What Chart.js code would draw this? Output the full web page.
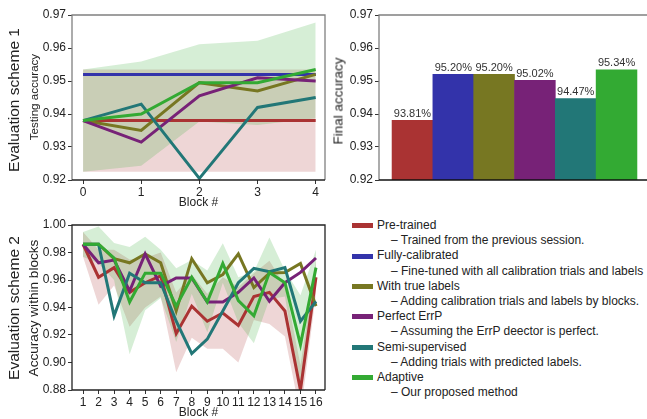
<!DOCTYPE html>
<html>
<head>
<meta charset="utf-8">
<script src="https://cdn.jsdelivr.net/npm/chart.js@4"></script>
<style>
  body { margin: 0; background: #fff; }
  #fig { position: relative; width: 647px; height: 419px; overflow: hidden; background: #fff;
         font-family: 'Liberation Sans', Arial, sans-serif; color: #222; }
  #fig canvas { position: absolute; }
  .rot { position: absolute; white-space: nowrap; transform: translate(-50%, -50%) rotate(-90deg); }
  #legend { position: absolute; left: 352px; top: 218px; font-size: 12px; line-height: 15.2px; }
  .lg-name { display: flex; align-items: center; }
  .lg-sw { display: inline-block; width: 21px; height: 5px; margin-right: 4px; }
  .lg-note { padding-left: 39px; }
</style>
</head>
<body>
<div id="fig">
  <canvas id="c1" width="330" height="210" style="left:0;top:0;width:330px;height:210px"></canvas>
  <canvas id="c2" width="330" height="210" style="left:330px;top:0;width:330px;height:210px"></canvas>
  <canvas id="c3" width="330" height="210" style="left:0;top:210px;width:330px;height:210px"></canvas>

  <div class="rot" style="left:14px;top:100px;font-size:15.5px">Evaluation scheme 1</div>
  <div class="rot" style="left:33px;top:97px;font-size:11.6px">Testing accuracy</div>
  <div class="rot" style="left:338px;top:101px;font-size:13.5px">Final accuracy</div>
  <div class="rot" style="left:14px;top:308px;font-size:15.5px">Evaluation scheme 2</div>
  <div class="rot" style="left:33px;top:308px;font-size:13.6px">Accuracy within blocks</div>

  <div id="legend"></div>
</div>

<script>
// методы и цвета
const methodNames = ['Pre-trained', 'Fully-calibrated', 'With true labels', 'Perfect ErrP', 'Semi-supervised', 'Adaptive'];
const methodNotes = [
  '\u2013 Trained from the previous session.',
  '\u2013 Fine-tuned with all calibration trials and labels',
  '\u2013 Adding calibration trials and labels by blocks.',
  '\u2013 Assuming the ErrP deector is perfect.',
  '\u2013 Adding trials with predicted labels.',
  '\u2013 Our proposed method'
];
const methodColors = ['#AA3333', '#3333AA', '#777722', '#772277', '#227777', '#33AA33'];

// схема 1 — точность на тесте
const blocks1 = [0, 1, 2, 3, 4];
const s1Pre   = [0.938, 0.938, 0.938, 0.938, 0.938];
const s1Full  = [0.952, 0.952, 0.952, 0.952, 0.952];
const s1True  = [0.938, 0.935, 0.9495, 0.947, 0.952];
const s1Errp  = [0.938, 0.9315, 0.9455, 0.951, 0.950];
const s1Semi  = [0.938, 0.943, 0.9205, 0.942, 0.945];
const s1Adapt = [0.938, 0.940, 0.9495, 0.9495, 0.9535];
const s1PreLow    = [0.9225, 0.9225, 0.9225, 0.9225, 0.9225];
const s1PreHigh   = [0.9535, 0.9535, 0.9535, 0.9535, 0.9535];
const s1AdaptLow  = [0.9225, 0.9243, 0.9377, 0.9367, 0.9387];
const s1AdaptHigh = [0.9535, 0.9559, 0.9611, 0.9622, 0.9677];
const yTicks1 = [0.92, 0.93, 0.94, 0.95, 0.96, 0.97];

// итоговая точность
const finalAcc = [93.81, 95.20, 95.20, 95.02, 94.47, 95.34];

// схема 2 — точность внутри блоков
const blocks2 = [1, 2, 3, 4, 5, 6, 7, 8, 9, 10, 11, 12, 13, 14, 15, 16];
const s2Pre   = [0.986, 0.962, 0.969, 0.951, 0.958, 0.963, 0.921, 0.941, 0.930, 0.936, 0.927, 0.948, 0.951, 0.9375, 0.880, 0.962];
const s2True  = [0.986, 0.986, 0.9755, 0.9725, 0.979, 0.9725, 0.9375, 0.9755, 0.958, 0.964, 0.979, 0.9545, 0.965, 0.9655, 0.972, 0.941];
const s2Errp  = [0.986, 0.9725, 0.9745, 0.952, 0.979, 0.9555, 0.9615, 0.9615, 0.944, 0.944, 0.951, 0.9615, 0.9445, 0.958, 0.9655, 0.976];
const s2Semi  = [0.986, 0.986, 0.934, 0.965, 0.958, 0.958, 0.930, 0.9065, 0.917, 0.9375, 0.958, 0.9685, 0.966, 0.969, 0.930, 0.9445];
const s2Adapt = [0.986, 0.986, 0.976, 0.944, 0.965, 0.965, 0.941, 0.962, 0.944, 0.972, 0.945, 0.934, 0.9655, 0.958, 0.913, 0.969];
const s2PreLow    = [0.977, 0.942, 0.956, 0.926, 0.940, 0.948, 0.893, 0.918, 0.910, 0.910, 0.900, 0.931, 0.928, 0.919, 0.862, 0.950];
const s2PreHigh   = [0.995, 0.982, 0.982, 0.975, 0.976, 0.980, 0.951, 0.964, 0.950, 0.962, 0.955, 0.965, 0.974, 0.956, 0.898, 0.974];
const s2AdaptLow  = [0.977, 0.972, 0.960, 0.906, 0.938, 0.947, 0.915, 0.950, 0.922, 0.958, 0.929, 0.914, 0.946, 0.948, 0.880, 0.956];
const s2AdaptHigh = [0.995, 0.999, 0.987, 0.984, 0.9915, 0.982, 0.9685, 0.9745, 0.967, 0.9867, 0.962, 0.966, 0.991, 0.967, 0.949, 0.982];
const yTicks2 = [0.88, 0.90, 0.92, 0.94, 0.96, 0.98, 1.00];

Chart.defaults.font.family = "'Liberation Sans', Arial, sans-serif";
Chart.defaults.font.size = 12;
Chart.defaults.color = '#222';

// рамка вокруг области графика
const framePlugin = {
  id: 'frame',
  afterDraw(chart, args, opts) {
    const { ctx, chartArea: a } = chart;
    ctx.save();
    ctx.lineWidth = 1.3;
    ctx.strokeStyle = opts.color;
    ctx.beginPath();
    ctx.moveTo(a.left, a.bottom);
    ctx.lineTo(a.left, a.top);
    ctx.lineTo(a.right, a.top);
    ctx.lineTo(a.right, a.bottom);
    ctx.stroke();
    ctx.strokeStyle = opts.bottomColor;
    ctx.beginPath();
    ctx.moveTo(a.left, a.bottom);
    ctx.lineTo(a.right, a.bottom);
    ctx.stroke();
    ctx.restore();
  }
};

// подписи над столбцами
const barLabels = {
  id: 'barLabels',
  afterDatasetsDraw(chart) {
    const ctx = chart.ctx;
    const meta = chart.getDatasetMeta(0);
    ctx.save();
    ctx.font = "11px 'Liberation Sans', Arial, sans-serif";
    ctx.fillStyle = '#333';
    ctx.textAlign = 'center';
    ctx.textBaseline = 'bottom';
    meta.data.forEach((bar, i) => {
      ctx.fillText(finalAcc[i].toFixed(2) + '%', bar.x, bar.y - 1);
    });
    ctx.restore();
  }
};

function pts(xs, ys) {
  return xs.map((x, i) => ({ x: x, y: ys[i] }));
}

function line(idx, xs, ys, order) {
  return {
    label: methodNames[idx],
    data: pts(xs, ys),
    borderColor: methodColors[idx],
    backgroundColor: methodColors[idx],
    borderWidth: 3,
    pointRadius: 0,
    tension: 0,
    fill: false,
    order: order
  };
}

function band(xs, lo, hi, color, order) {
  return [
    { data: pts(xs, hi), borderColor: 'transparent', borderWidth: 0, pointRadius: 0, fill: '+1', backgroundColor: color, order: order },
    { data: pts(xs, lo), borderColor: 'transparent', borderWidth: 0, pointRadius: 0, fill: false, order: order }
  ];
}

function lineOptions(xs, xMin, xMax, yTicks) {
  return {
    responsive: false,
    animation: false,
    devicePixelRatio: 1,
    layout: { padding: { top: 15, right: 5, bottom: 0, left: 0 } },
    plugins: {
      legend: { display: false },
      tooltip: { enabled: false },
      frame: { color: '#808080', bottomColor: '#222' }
    },
    scales: {
      x: {
        type: 'linear',
        min: xMin,
        max: xMax,
        afterBuildTicks: s => { s.ticks = xs.map(v => ({ value: v })); },
        afterFit: s => { s.height = 30; },
        grid: { drawOnChartArea: false, tickLength: 4, color: '#333' },
        border: { display: false },
        ticks: { autoSkip: false, maxRotation: 0, minRotation: 0, padding: 1, color: '#222', callback: v => v },
        title: { display: true, text: 'Block #', padding: 0, color: '#222', font: { size: 12 } }
      },
      y: {
        min: yTicks[0],
        max: yTicks[yTicks.length - 1],
        afterBuildTicks: s => { s.ticks = yTicks.map(v => ({ value: v })); },
        afterFit: s => { s.width = 72; },
        grid: { drawOnChartArea: false, tickLength: 4, color: '#333' },
        border: { display: false },
        ticks: { padding: 2, color: '#222', callback: v => v.toFixed(2) }
      }
    }
  };
}

// график 1
new Chart(document.getElementById('c1'), {
  type: 'line',
  data: {
    datasets: [
      ...band(blocks1, s1PreLow, s1PreHigh, 'rgba(170, 51, 51, 0.2)', 12),
      ...band(blocks1, s1AdaptLow, s1AdaptHigh, 'rgba(51, 170, 51, 0.2)', 11),
      line(0, blocks1, s1Pre, 6),
      line(1, blocks1, s1Full, 5),
      line(2, blocks1, s1True, 4),
      line(3, blocks1, s1Errp, 3),
      line(4, blocks1, s1Semi, 2),
      line(5, blocks1, s1Adapt, 1)
    ]
  },
  options: lineOptions(blocks1, -0.19, 4.16, yTicks1),
  plugins: [framePlugin]
});

// график 2 — столбцы
new Chart(document.getElementById('c2'), {
  type: 'bar',
  data: {
    datasets: [{
      data: finalAcc.map((v, i) => ({ x: i, y: v / 100 })),
      backgroundColor: methodColors,
      borderWidth: 0,
      barPercentage: 1,
      categoryPercentage: 1
    }]
  },
  options: {
    responsive: false,
    animation: false,
    devicePixelRatio: 1,
    layout: { padding: { top: 15, right: 10, bottom: 30, left: 0 } },
    plugins: {
      legend: { display: false },
      tooltip: { enabled: false },
      frame: { color: '#808080', bottomColor: '#111' }
    },
    scales: {
      x: { type: 'linear', offset: false, min: -0.82, max: 5.82, display: false },
      y: {
        min: yTicks1[0],
        max: yTicks1[yTicks1.length - 1],
        afterBuildTicks: s => { s.ticks = yTicks1.map(v => ({ value: v })); },
        afterFit: s => { s.width = 49; },
        grid: { drawOnChartArea: false, tickLength: 4, color: '#333' },
        border: { display: false },
        ticks: { padding: 2, color: '#222', callback: v => v.toFixed(2) }
      }
    }
  },
  plugins: [framePlugin, barLabels]
});

// график 3
const opts3 = lineOptions(blocks2, 0.29, 16.58, yTicks2);
opts3.plugins.frame = { color: '#222', bottomColor: '#222' };
new Chart(document.getElementById('c3'), {
  type: 'line',
  data: {
    datasets: [
      ...band(blocks2, s2PreLow, s2PreHigh, 'rgba(170, 51, 51, 0.2)', 12),
      ...band(blocks2, s2AdaptLow, s2AdaptHigh, 'rgba(51, 170, 51, 0.2)', 11),
      line(0, blocks2, s2Pre, 6),
      line(2, blocks2, s2True, 4),
      line(3, blocks2, s2Errp, 3),
      line(4, blocks2, s2Semi, 2),
      line(5, blocks2, s2Adapt, 1)
    ]
  },
  options: opts3,
  plugins: [framePlugin]
});

// легенда
const legend = document.getElementById('legend');
methodNames.forEach((name, i) => {
  const row = document.createElement('div');
  row.className = 'lg-name';
  row.innerHTML = `<span class="lg-sw" style="background:${methodColors[i]}"></span><span>${name}</span>`;
  legend.appendChild(row);
  const note = document.createElement('div');
  note.className = 'lg-note';
  note.textContent = methodNotes[i];
  legend.appendChild(note);
});
</script>
</body>
</html>
